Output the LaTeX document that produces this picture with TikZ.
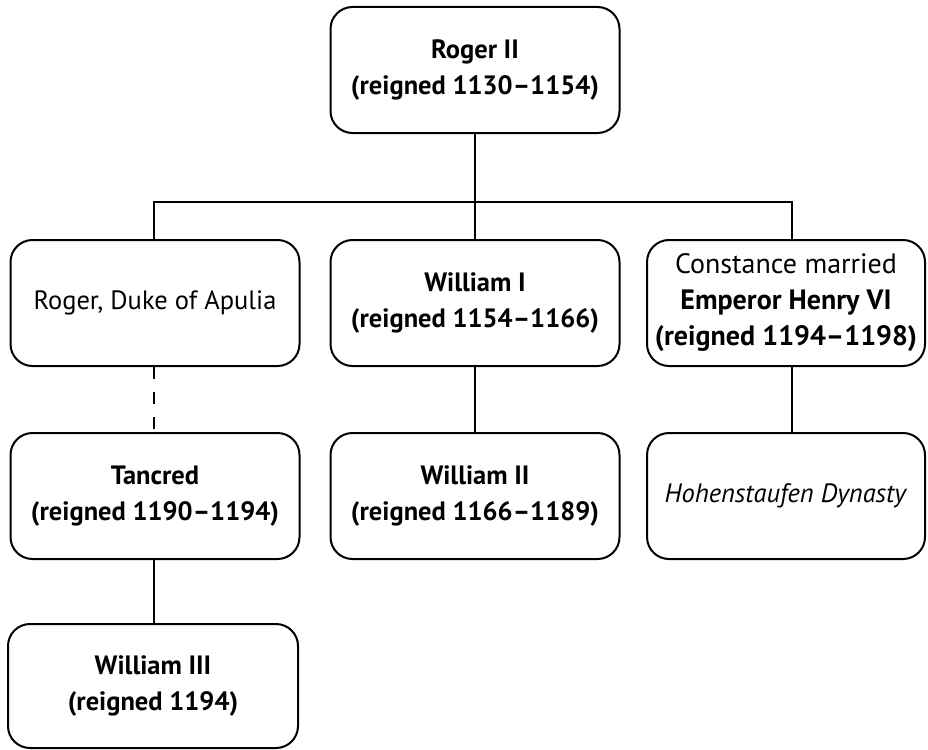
\documentclass[tikz,border=0pt]{standalone}
\usepackage{fontspec}
\setmainfont{PT Sans}
\usetikzlibrary{calc}
\tikzset{
	reign/.style={
			draw, line width=2pt, rounded corners=22pt, fill=white,
			minimum width=289pt, minimum height=126pt, inner sep=0pt,
			align=center, font=\fontsize{26.5}{36}\selectfont
		},
	link/.style={line width=2pt}
}

\begin{document}
\begin{tikzpicture}[x=1pt,y=-1pt]
		\useasboundingbox (0,0) rectangle (928,749);
		% Draw the kings
		\node[reign] (roger) at (475,70) {\textbf{Roger II}\\\textbf{(reigned 1130--1154)}};
		\node[reign] (apulia) at (155,303) {Roger, Duke of Apulia};
		\node[reign] (willi) at (475,303) {\textbf{William I}\\\textbf{(reigned 1154--1166)}};
		\node[reign, minimum width=278pt, font=\fontsize{28}{36}\selectfont] (henry) at (786,303) {Constance married\\\textbf{Emperor Henry VI}\\\textbf{(reigned 1194--1198)}};
		\node[reign] (tancred) at (155,496) {\textbf{Tancred}\\\textbf{(reigned 1190--1194)}};
		\node[reign] (williii) at (475,496) {\textbf{William II}\\\textbf{(reigned 1166--1189)}};
		\node[reign, minimum width=278pt] (hohen) at (786,496) {\textit{Hohenstaufen Dynasty}};
		\node[reign, minimum width=290pt, minimum height=124pt] (williiii) at (153,686) {\textbf{William III}\\\textbf{(reigned 1194)}};
		% Draw the lines of descent
		\coordinate (barL) at (154,202);
		\coordinate (barR) at (792,202);
		\draw[link] (roger.south) -- (willi.north);
		\draw[link] (apulia.north -| barL) -- (barL) -- (barR) -- (barR |- henry.north);
		\draw[link, dash pattern=on 12pt off 13pt] (apulia.south -| barL) -- (tancred.north -| barL);
		\draw[link] (willi.south) -- (williii.north);
		\draw[link] (henry.south -| barR) -- (hohen.north -| barR);
		\draw[link] (tancred.south -| barL) -- (williiii.north -| barL);
	\end{tikzpicture}
\end{document}
